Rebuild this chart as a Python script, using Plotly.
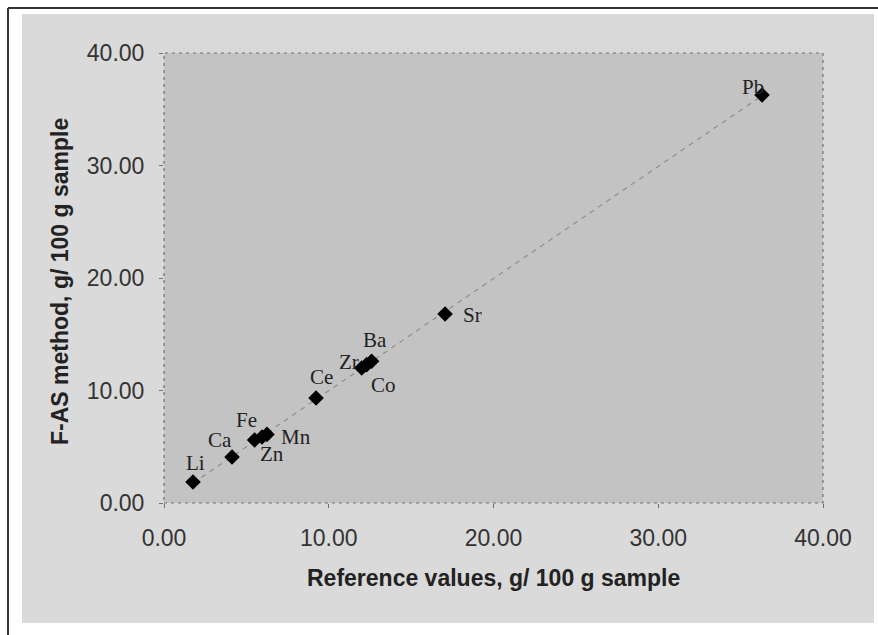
import numpy as np
import plotly.graph_objects as go

# Data
elements = ["Li", "Ca", "Fe", "Zn", "Mn", "Ce", "Zr", "Co", "Ba", "Sr", "Pb"]
reference_vals = [1.76, 4.13, 5.50, 5.95, 6.25, 9.23, 12.00, 12.30, 12.60, 17.06, 36.30]
fas_vals = [1.87, 4.09, 5.60, 5.87, 6.10, 9.33, 12.00, 12.30, 12.60, 16.80, 36.27]
x_ticks = [0, 10, 20, 30, 40]
y_ticks = [0, 10, 20, 30, 40]
x_title = "Reference values, g/ 100 g sample"
y_title = "F-AS method, g/ 100 g sample"

# label offsets in pixels (styling)
label_shift = {
    "Li": (2, 19), "Ca": (-12, 17), "Fe": (-8, 20), "Mn": (29, -3),
    "Zn": (10, -17), "Ce": (5, 21), "Zr": (-13, 6), "Ba": (3, 21),
    "Co": (17, -20), "Sr": (27, -1), "Pb": (-9, 8),
}

W, H = 878, 635
L, R, T, B = 164, 55, 53, 132
pw, ph = W - L - R, H - T - B

def px(xp):
    return (xp - L) / pw

def py(yp):
    return (H - B - yp) / ph

fig = go.Figure()

# trend line from least-squares fit
xs = np.array(reference_vals)
ys = np.array(fas_vals)
k, c = np.polyfit(xs, ys, 1)
xl = np.array([xs.min(), xs.max()])
fig.add_trace(go.Scatter(x=xl, y=k * xl + c, mode="lines",
                         line=dict(color="#8e8e8e", width=1.2, dash="5px,5px"),
                         hoverinfo="skip", showlegend=False))

fig.add_trace(go.Scatter(x=reference_vals, y=fas_vals, mode="markers",
                         marker=dict(symbol="diamond", size=12, color="black"),
                         text=elements, showlegend=False))

annotations = []
for el, xv, yv in zip(elements, reference_vals, fas_vals):
    dx, dy = label_shift[el]
    annotations.append(dict(x=xv, y=yv, xref="x", yref="y", text=el,
                            showarrow=False, xshift=dx, yshift=dy,
                            xanchor="center", yanchor="middle",
                            font=dict(family="Liberation Serif", size=21, color="#222")))

annotations.append(dict(x=px(493), y=py(578), xref="paper", yref="paper",
                        text="<b>" + x_title + "</b>", showarrow=False,
                        xanchor="center", yanchor="middle",
                        font=dict(family="Liberation Sans", size=23, color="#222")))
annotations.append(dict(x=px(60), y=py(282), xref="paper", yref="paper",
                        text="<b>" + y_title + "</b>", showarrow=False, textangle=-90,
                        xanchor="center", yanchor="middle",
                        font=dict(family="Liberation Sans", size=23, color="#222")))

shapes = [
    # light gray chart panel
    dict(type="rect", xref="paper", yref="paper", x0=px(22), x1=px(874),
         y0=py(623), y1=py(14), fillcolor="#dadada", line=dict(width=0), layer="below"),
    # plot area
    dict(type="rect", xref="paper", yref="paper", x0=0, x1=1, y0=0, y1=1,
         fillcolor="#c3c3c3", line=dict(width=0), layer="below"),
    # dashed plot border
    dict(type="rect", xref="paper", yref="paper", x0=0, x1=1, y0=0, y1=1,
         line=dict(color="#707070", width=1.2, dash="3px,4px"), layer="below"),
    # outer black frame lines (top & left)
    dict(type="line", xref="paper", yref="paper", x0=px(8), x1=px(W + 5),
         y0=py(8), y1=py(8), line=dict(color="#333", width=2)),
    dict(type="line", xref="paper", yref="paper", x0=px(8), x1=px(8),
         y0=py(8), y1=py(H + 5), line=dict(color="#333", width=2)),
]

axis_common = dict(range=[0, 40], showgrid=False, zeroline=False, showline=False,
                   ticks="outside", ticklen=4, tickcolor="#707070", tickformat=".2f",
                   tickfont=dict(family="Liberation Sans", size=23, color="#333"),
                   fixedrange=True)

fig.update_layout(
    width=W, height=H,
    margin=dict(l=L, r=R, t=T, b=B),
    paper_bgcolor="white", plot_bgcolor="rgba(0,0,0,0)",
    xaxis=dict(tickvals=x_ticks, ticklabelstandoff=10, **axis_common),
    yaxis=dict(tickvals=y_ticks, ticklabelstandoff=10, **axis_common),
    annotations=annotations, shapes=shapes,
)

fig.write_html("out.html")
